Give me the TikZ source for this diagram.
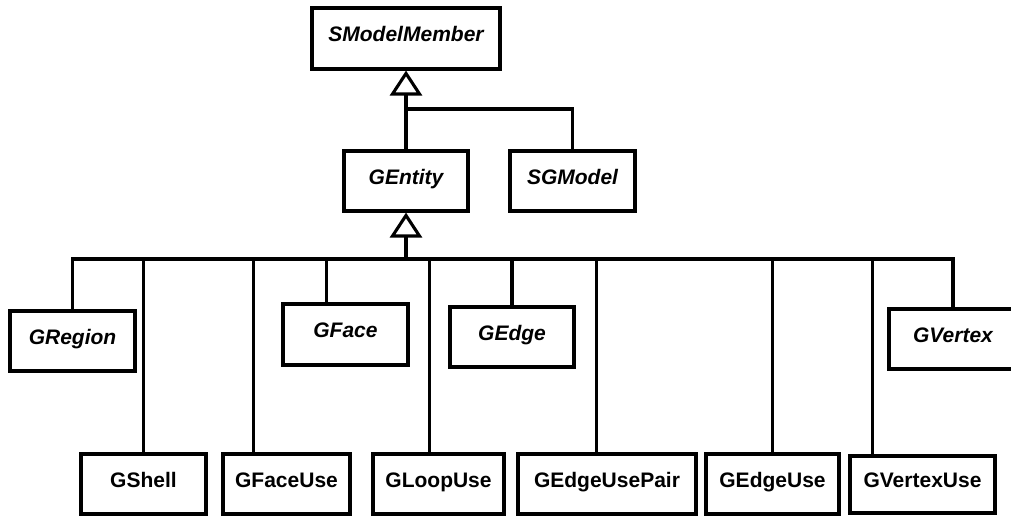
\documentclass[tikz,border=0pt]{standalone}
\usepackage{fontspec}
\setmainfont{Liberation Sans}
\usetikzlibrary{arrows.meta}
\tikzset{
  cls/.style={draw, line width=3.1pt, inner sep=0pt, minimum height=60pt,
    text height=15pt, text depth=9pt, font=\fontsize{21pt}{24pt}\selectfont\bfseries},
  abstract/.style={cls, font=\fontsize{21pt}{24pt}\selectfont\bfseries\itshape},
  link/.style={line width=3.1pt},
  inherit/.style={link, -{Triangle[open, length=25pt, width=32pt]}}
}
\begin{document}
\begin{tikzpicture}[x=1pt, y=-1pt, line join=miter]
\useasboundingbox (0,0) rectangle (1011,516);
\clip (0,0) rectangle (1011,516);
% upper level
\node[abstract, minimum width=188pt, minimum height=61pt] (smm) at (406,38.5) {SModelMember};
\node[abstract, minimum width=124pt] (gentity) at (406,181) {GEntity};
\node[abstract, minimum width=125pt] (sgmodel) at (572.5,181) {SGModel};
% abstract geometric entities
\node[abstract, minimum width=125pt] (gregion) at (72.5,341) {GRegion};
\node[abstract, minimum width=125pt, minimum height=61pt] (gface) at (345.5,334.5) {GFace};
\node[abstract, minimum width=124pt] (gedge) at (512,337) {GEdge};
\node[abstract, minimum width=128pt] (gvertex) at (953,339) {GVertex};
% use classes
\node[cls, minimum width=125pt] (gshell) at (143.5,484) {GShell};
\node[cls, minimum width=127pt] (gfaceuse) at (286.5,484) {GFaceUse};
\node[cls, minimum width=131pt] (gloopuse) at (438.5,484) {GLoopUse};
\node[cls, minimum width=178pt] (gedgeusepair) at (607,484) {GEdgeUsePair};
\node[cls, minimum width=133pt] (gedgeuse) at (772.5,484) {GEdgeUse};
\node[cls, minimum width=145pt, minimum height=57pt] (gvertexuse) at (922.5,484.5) {GVertexUse};
% junctions
\coordinate (j1) at (406,109);
\coordinate (bus) at (406,259);
% generalization to SModelMember
\draw[inherit] (gentity.north) -- (smm.south);
\draw[link] (sgmodel.north) |- (j1);
% generalization to GEntity
\draw[inherit] (bus) -- (gentity.south);
\draw[link] (gregion.north) |- (bus);
\draw[link] (gshell.north) |- (bus);
\draw[link] ([xshift=32pt]gfaceuse.north west) |- (bus);
\draw[link] ([xshift=45pt]gface.north west) |- (bus);
\draw[link] ([xshift=58pt]gloopuse.north west) |- (bus);
\draw[link] (gedge.north) |- (bus);
\draw[link] ([xshift=80pt]gedgeusepair.north west) |- (bus);
\draw[link] (gedgeuse.north) |- (bus);
\draw[link] ([xshift=24pt]gvertexuse.north west) |- (bus);
\draw[link] (gvertex.north) |- (bus);
\end{tikzpicture}
\end{document}
